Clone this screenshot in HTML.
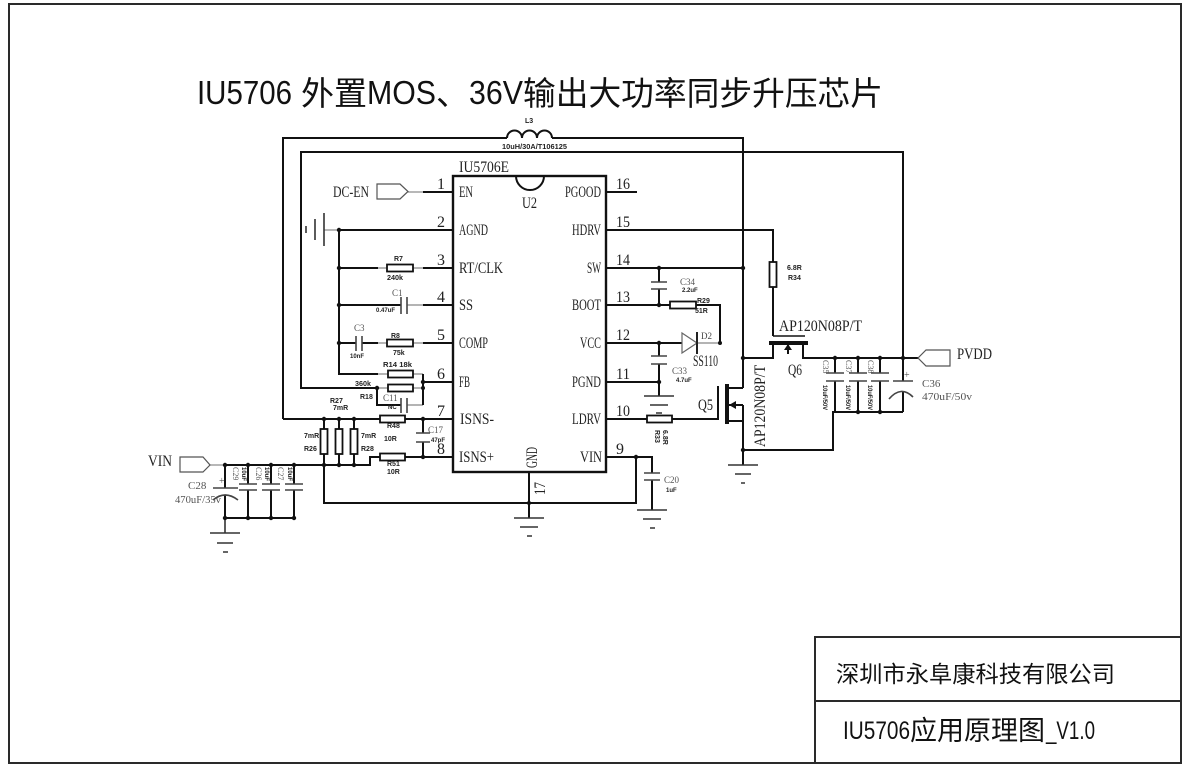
<!DOCTYPE html>
<html><head><meta charset="utf-8">
<style>
html,body{margin:0;padding:0;background:#fff;}
svg{display:block;}
.p{font-family:"Liberation Serif",serif;font-size:16px;fill:#222;}
.a{font-family:"Liberation Sans",sans-serif;font-size:7px;fill:#222;font-weight:bold;}
.g{font-family:"Liberation Serif",serif;font-size:9px;fill:#555;}
.t{font-family:"Liberation Sans","Noto Sans CJK SC",sans-serif;fill:#111;}
.c{font-family:"Noto Sans CJK SC","WenQuanYi Zen Hei",sans-serif;fill:#111;}
</style></head>
<body>
<svg width="1189" height="773" viewBox="0 0 1189 773" xmlns="http://www.w3.org/2000/svg">
<rect width="1189" height="773" fill="#fff"/>
<!-- frame -->
<g fill="none" stroke="#2a2a2a" stroke-width="2">
<rect x="9" y="4" width="1172" height="759"/>
<rect x="815" y="637" width="366" height="126"/>
<line x1="815" y1="701" x2="1181" y2="701"/>
</g>

<!-- title -->
<text class="t" x="197" y="104" font-size="33" textLength="95" lengthAdjust="spacingAndGlyphs">IU5706</text>
<text class="c" x="301" y="105" font-size="33">外置</text>
<text class="t" x="367" y="104" font-size="33" textLength="69" lengthAdjust="spacingAndGlyphs">MOS</text>
<text class="c" x="436" y="105" font-size="33">、</text>
<text class="t" x="469" y="104" font-size="33" textLength="54" lengthAdjust="spacingAndGlyphs">36V</text>
<text class="c" x="523" y="105" font-size="33" textLength="360" lengthAdjust="spacingAndGlyphs">输出大功率同步升压芯片</text>

<!-- title block text -->
<text class="c" x="836" y="682" font-size="23" textLength="279" lengthAdjust="spacingAndGlyphs">深圳市永阜康科技有限公司</text>
<text class="t" x="843" y="739" font-size="25" textLength="67" lengthAdjust="spacingAndGlyphs">IU5706</text>
<text class="c" x="910" y="740" font-size="27">应用原理图</text>
<text class="t" x="1046" y="739" font-size="25" textLength="49" lengthAdjust="spacingAndGlyphs">_V1.0</text>

<!-- thin leads -->
<g fill="none" stroke="#888" stroke-width="1.2">
<path d="M408,192 H423"/>
<path d="M378,268 H423 M407,305 H423 M378,343 H423 M378,374 H423 M377,388 H423 M407,405 H423"/>
<path d="M210,465 H225"/>
<path d="M324,230 H339"/>
<path d="M697,343 H720"/>
</g>

<!-- main wires -->
<g fill="none" stroke="#111" stroke-width="2">
<path d="M283,419 V138 H507"/>
<path d="M552,138 H743 V388"/>
<path d="M507,138 a7.5,7.5 0 0 1 15,0 a7.5,7.5 0 0 1 15,0 a7.5,7.5 0 0 1 15,0"/>
<path d="M377,388 H301 V152 H903 V381"/>
<path d="M903,392 V412"/>
<path d="M283,419 H453"/>
<!-- IC -->
<rect x="453" y="176" width="153" height="296" stroke-width="2.4"/>
<path d="M516,176 A14,14 0 0 0 544,176"/>
<!-- left pins -->
<path d="M423,192 H453 M339,230 H453 M423,268 H453 M423,305 H453 M423,343 H453 M423,382 H453 M380,457 H453"/>
<path d="M339,230 V374 H378"/>
<path d="M339,268 H378 M339,305 H401 M339,343 H356 M362,343 H378"/>
<path d="M423,374 V405"/>
<path d="M377,388 V405 H401"/>
<!-- ISNS / VIN -->
<path d="M225,465 H370 V457 H380"/>
<path d="M324,419 V429 M324,454 V465 M339,419 V429 M339,454 V465 M354,419 V429 M354,454 V465"/>
<path d="M324,465 V503 H636 V457"/>
<path d="M423,419 V433 M423,442 V457"/>
<path d="M225,465 V488 M225,495 V518 M248,465 V484 M248,490 V518 M271,465 V484 M271,490 V518 M294,465 V484 M294,490 V518"/>
<path d="M225,518 H294"/>
<path d="M529,472 V518"/>
<!-- right pins -->
<path d="M606,192 H637"/>
<path d="M606,230 H773 V262 M773,287 V336"/>
<path d="M606,268 H743"/>
<path d="M659,268 V282 M659,289 V305"/>
<path d="M606,305 H670 M696,305 H720 V343"/>
<path d="M606,343 H682"/>
<path d="M659,343 V356 M659,364 V382"/>
<path d="M606,382 H659 V396"/>
<path d="M606,419 H647 M672,419 H718 V386"/>
<path d="M606,457 H652 V473 M652,480 V510"/>
<!-- Q5 -->
<path d="M727,384 V424" stroke-width="4"/>
<path d="M727,388 H743 M727,405 H743 M727,421 H743 M743,405 V465"/>
<path d="M743,450 H833 V412 H903"/>
<!-- Q6 -->
<path d="M773,336 H805" stroke-width="1.6"/>
<path d="M769,343 H808" stroke-width="4"/>
<path d="M773,343 V358 H743 M803,343 V358 H918 M788,343 V354"/>
<path d="M835,358 V373 M835,381 V412 M858,358 V373 M858,381 V412 M880,358 V373 M880,381 V412"/>
</g>
<!-- arrows -->
<polygon points="729,405 736,401 736,409" fill="#111"/>
<polygon points="788,344 784,350 792,350" fill="#111"/>

<!-- resistors -->
<g fill="#fff" stroke="#111" stroke-width="1.8">
<rect x="387" y="264.5" width="26" height="7"/>
<rect x="387" y="339.5" width="26" height="7"/>
<rect x="388" y="370.5" width="25" height="7"/>
<rect x="388" y="384.5" width="25" height="7"/>
<rect x="380" y="415.5" width="25" height="7"/>
<rect x="380" y="453.5" width="25" height="7"/>
<rect x="320.5" y="429" width="7" height="25"/>
<rect x="335.5" y="429" width="7" height="25"/>
<rect x="350.5" y="429" width="7" height="25"/>
<rect x="670" y="301.5" width="26" height="7"/>
<rect x="647" y="415.5" width="25" height="7"/>
<rect x="769.5" y="262" width="7" height="25"/>
</g>

<!-- capacitor plates -->
<g fill="none" stroke="#444" stroke-width="1.6">
<path d="M401,297 V314 M407,297 V314"/>
<path d="M356,336 V351 M362,336 V351"/>
<path d="M401,398 V413 M407,398 V413"/>
<path d="M416,433 H430 M416,442 H430"/>
<path d="M651,282 H667 M651,289 H667"/>
<path d="M651,356 H667 M651,364 H667"/>
<path d="M644,473 H660 M644,480 H660"/>
<path d="M213,488 H238 M213,500 Q225,490 238,500"/>
<path d="M239,484 H257 M239,490 H257 M262,484 H280 M262,490 H280 M285,484 H303 M285,490 H303"/>
<path d="M826,373 H844 M826,381 H844 M849,373 H867 M849,381 H867 M871,373 H889 M871,381 H889"/>
<path d="M893,381 H913 M889,399 Q901,385 913,397"/>
</g>

<!-- grounds -->
<g fill="none" stroke="#333" stroke-width="1.6">
<path d="M306,226 V233 M315,219 V240 M324,213 V246"/>
<path d="M225,518 V533 M210,533 H240 M217,543 H233 M223,552 H228"/>
<path d="M514,518 H544 M520,527 H538 M527,536 H532"/>
<path d="M637,510 H667 M643,519 H661 M650,528 H655"/>
<path d="M644,396 H674 M650,405 H668 M656,413 H662"/>
<path d="M728,465 H758 M735,474 H751 M741,483 H745"/>
</g>

<!-- diode -->
<polygon points="682,333 682,353 697,343" fill="none" stroke="#666" stroke-width="1.2"/>
<path d="M697,332 V354" stroke="#222" stroke-width="2"/>

<!-- flags -->
<g fill="#fff" stroke="#555" stroke-width="1.2">
<polygon points="377,184 400,184 408,191.5 400,199 377,199"/>
<polygon points="180,457 203,457 210,465 203,472 180,472"/>
<polygon points="918,358 926,350 950,350 950,366 926,366"/>
</g>

<!-- junction dots -->
<g fill="#111">
<circle cx="339" cy="230" r="2.2"/><circle cx="339" cy="268" r="2.2"/><circle cx="339" cy="305" r="2.2"/><circle cx="339" cy="343" r="2.2"/>
<circle cx="423" cy="382" r="2.2"/><circle cx="423" cy="388" r="2"/><circle cx="377" cy="388" r="2.2"/>
<circle cx="324" cy="419" r="2.2"/><circle cx="339" cy="419" r="2.2"/><circle cx="354" cy="419" r="2.2"/><circle cx="423" cy="419" r="2.2"/><circle cx="423" cy="457" r="2.2"/>
<circle cx="225" cy="465" r="2.2"/><circle cx="248" cy="465" r="2.2"/><circle cx="271" cy="465" r="2.2"/><circle cx="294" cy="465" r="2.2"/>
<circle cx="324" cy="465" r="2.2"/><circle cx="339" cy="465" r="2.2"/><circle cx="354" cy="465" r="2.2"/>
<circle cx="225" cy="518" r="2.2"/><circle cx="248" cy="518" r="2.2"/><circle cx="271" cy="518" r="2.2"/><circle cx="294" cy="518" r="2.2"/>
<circle cx="636" cy="457" r="2.2"/><circle cx="529" cy="503" r="2"/>
<circle cx="659" cy="268" r="2.2"/><circle cx="743" cy="268" r="2.2"/><circle cx="659" cy="305" r="2.2"/><circle cx="659" cy="343" r="2.2"/><circle cx="720" cy="343" r="2"/><circle cx="659" cy="382" r="2.2"/>
<circle cx="743" cy="358" r="2.2"/><circle cx="835" cy="358" r="2.2"/><circle cx="858" cy="358" r="2.2"/><circle cx="880" cy="358" r="2.2"/><circle cx="903" cy="358" r="2.2"/>
<circle cx="858" cy="412" r="2.2"/><circle cx="880" cy="412" r="2.2"/><circle cx="743" cy="450" r="2.2"/>
</g>

<!-- IC text -->
<text class="p" x="459" y="172" textLength="50" lengthAdjust="spacingAndGlyphs">IU5706E</text>
<text class="p" x="522" y="208" textLength="15" lengthAdjust="spacingAndGlyphs">U2</text>
<text class="p" x="459" y="197" textLength="14" lengthAdjust="spacingAndGlyphs">EN</text>
<text class="p" x="459" y="235" textLength="29" lengthAdjust="spacingAndGlyphs">AGND</text>
<text class="p" x="459" y="273" textLength="44" lengthAdjust="spacingAndGlyphs">RT/CLK</text>
<text class="p" x="459" y="310" textLength="14" lengthAdjust="spacingAndGlyphs">SS</text>
<text class="p" x="459" y="348" textLength="29" lengthAdjust="spacingAndGlyphs">COMP</text>
<text class="p" x="459" y="387" textLength="11" lengthAdjust="spacingAndGlyphs">FB</text>
<text class="p" x="460" y="424" textLength="34" lengthAdjust="spacingAndGlyphs">ISNS-</text>
<text class="p" x="459" y="462" textLength="35" lengthAdjust="spacingAndGlyphs">ISNS+</text>
<text class="p" x="565" y="197" textLength="36" lengthAdjust="spacingAndGlyphs">PGOOD</text>
<text class="p" x="572" y="235" textLength="29" lengthAdjust="spacingAndGlyphs">HDRV</text>
<text class="p" x="587" y="273" textLength="14" lengthAdjust="spacingAndGlyphs">SW</text>
<text class="p" x="572" y="310" textLength="29" lengthAdjust="spacingAndGlyphs">BOOT</text>
<text class="p" x="580" y="348" textLength="21" lengthAdjust="spacingAndGlyphs">VCC</text>
<text class="p" x="572" y="387" textLength="29" lengthAdjust="spacingAndGlyphs">PGND</text>
<text class="p" x="572" y="424" textLength="29" lengthAdjust="spacingAndGlyphs">LDRV</text>
<text class="p" x="580" y="462" textLength="22" lengthAdjust="spacingAndGlyphs">VIN</text>
<g class="p" text-anchor="middle">
<text x="441" y="189">1</text><text x="441" y="227">2</text><text x="441" y="265">3</text><text x="441" y="302">4</text>
<text x="441" y="340">5</text><text x="441" y="379">6</text><text x="441" y="416">7</text><text x="441" y="454">8</text>
</g>
<g class="p">
<text x="616" y="189" textLength="14" lengthAdjust="spacingAndGlyphs">16</text>
<text x="616" y="227" textLength="14" lengthAdjust="spacingAndGlyphs">15</text>
<text x="616" y="265" textLength="14" lengthAdjust="spacingAndGlyphs">14</text>
<text x="616" y="302" textLength="14" lengthAdjust="spacingAndGlyphs">13</text>
<text x="616" y="340" textLength="14" lengthAdjust="spacingAndGlyphs">12</text>
<text x="616" y="379" textLength="14" lengthAdjust="spacingAndGlyphs">11</text>
<text x="616" y="416" textLength="14" lengthAdjust="spacingAndGlyphs">10</text>
<text x="616" y="454">9</text>
</g>
<text class="p" transform="translate(537,468) rotate(-90)" textLength="21" lengthAdjust="spacingAndGlyphs">GND</text>
<text class="p" transform="translate(545,495) rotate(-90)" textLength="13" lengthAdjust="spacingAndGlyphs">17</text>

<!-- net labels -->
<text class="p" x="333" y="197" textLength="36" lengthAdjust="spacingAndGlyphs">DC-EN</text>
<text class="p" x="148" y="466" textLength="24" lengthAdjust="spacingAndGlyphs">VIN</text>
<text class="p" x="957" y="359" textLength="35" lengthAdjust="spacingAndGlyphs">PVDD</text>

<!-- small component labels -->
<g class="a">
<text x="525" y="123">L3</text>
<text x="502" y="149" textLength="65" lengthAdjust="spacingAndGlyphs">10uH/30A/T106125</text>
<text x="394" y="261">R7</text>
<text x="387" y="280" textLength="16" lengthAdjust="spacingAndGlyphs">240k</text>
<text x="376" y="312" font-size="6" textLength="19" lengthAdjust="spacingAndGlyphs">0.47uF</text>
<text x="350" y="358" font-size="6">10nF</text>
<text x="391" y="338">R8</text>
<text x="393" y="355">75k</text>
<text x="383" y="367" textLength="29" lengthAdjust="spacingAndGlyphs">R14 18k</text>
<text x="355" y="386" textLength="16" lengthAdjust="spacingAndGlyphs">360k</text>
<text x="360" y="399">R18</text>
<text x="388" y="409" font-size="6">NC</text>
<text x="330" y="403">R27</text>
<text x="333" y="410">7mR</text>
<text x="304" y="438">7mR</text>
<text x="304" y="451">R26</text>
<text x="361" y="438">7mR</text>
<text x="361" y="451">R28</text>
<text x="387" y="428">R48</text>
<text x="384" y="441">10R</text>
<text x="387" y="466">R51</text>
<text x="387" y="474">10R</text>
<text x="431" y="442" font-size="6">47pF</text>
<text x="666" y="492" font-size="6">1uF</text>
<text x="682" y="292" font-size="6">2.2uF</text>
<text x="697" y="303">R29</text>
<text x="695" y="313">51R</text>
<text x="676" y="382" font-size="6">4.7uF</text>
<text x="787" y="270">6.8R</text>
<text x="788" y="280">R34</text>
<text transform="translate(655,430) rotate(90)">R33</text>
<text transform="translate(663,430) rotate(90)">6.8R</text>
<text transform="translate(242,467) rotate(90)" font-size="6">10uF</text>
<text transform="translate(265,467) rotate(90)" font-size="6">10uF</text>
<text transform="translate(288,467) rotate(90)" font-size="6">10uF</text>
<text transform="translate(823,385) rotate(90)" font-size="6" textLength="25" lengthAdjust="spacingAndGlyphs">10uF/50V</text>
<text transform="translate(846,385) rotate(90)" font-size="6" textLength="25" lengthAdjust="spacingAndGlyphs">10uF/50V</text>
<text transform="translate(868,385) rotate(90)" font-size="6" textLength="25" lengthAdjust="spacingAndGlyphs">10uF/50V</text>
</g>
<g class="g">
<text x="392" y="296">C1</text>
<text x="354" y="331">C3</text>
<text x="383" y="401">C11</text>
<text x="428" y="433">C17</text>
<text x="664" y="483">C20</text>
<text x="680" y="285">C34</text>
<text x="672" y="374">C33</text>
<text x="188" y="489" font-size="11">C28</text>
<text x="175" y="503" font-size="11" textLength="46" lengthAdjust="spacingAndGlyphs">470uF/35v</text>
<text x="219" y="484" font-size="10">+</text>
<text x="904" y="378" font-size="10">+</text>
<text x="922" y="387" font-size="11">C36</text>
<text x="922" y="400" font-size="11" textLength="50" lengthAdjust="spacingAndGlyphs">470uF/50v</text>
<text transform="translate(233,467) rotate(90)" font-size="8">C29</text>
<text transform="translate(256,467) rotate(90)" font-size="8">C26</text>
<text transform="translate(278,467) rotate(90)" font-size="8">C27</text>
<text transform="translate(823,360) rotate(90)" font-size="8">C35</text>
<text transform="translate(846,360) rotate(90)" font-size="8">C37</text>
<text transform="translate(868,360) rotate(90)" font-size="8">C38</text>
</g>
<text x="701" y="339" font-family="Liberation Serif, serif" font-size="9" fill="#444">D2</text>
<text class="p" x="693" y="366" font-size="12" fill="#555" textLength="25" lengthAdjust="spacingAndGlyphs">SS110</text>
<text class="p" x="698" y="410" textLength="15" lengthAdjust="spacingAndGlyphs">Q5</text>
<text class="p" x="788" y="375" textLength="14" lengthAdjust="spacingAndGlyphs">Q6</text>
<text class="p" x="779" y="331" font-size="15" textLength="83" lengthAdjust="spacingAndGlyphs">AP120N08P/T</text>
<text class="p" transform="translate(765,447) rotate(-90)" font-size="15" textLength="82" lengthAdjust="spacingAndGlyphs">AP120N08P/T</text>
</svg>
</body></html>
